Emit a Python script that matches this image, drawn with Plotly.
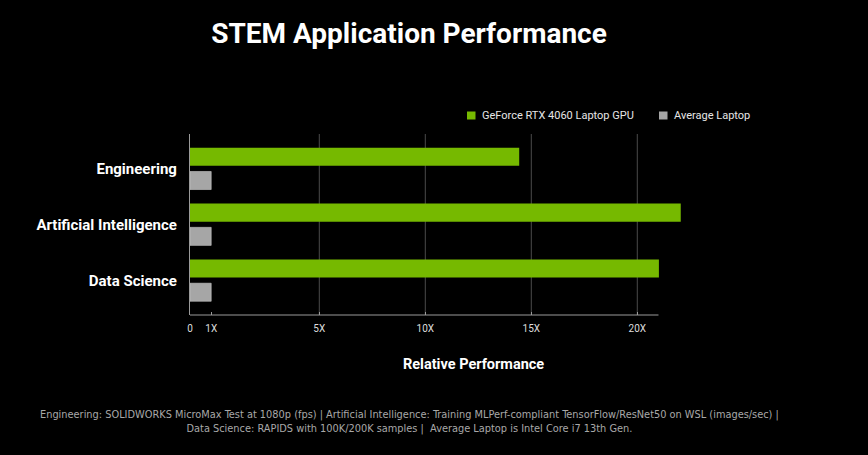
import plotly.graph_objects as go

# Values (in axis units, 1 unit = average laptop)
categories = ["Engineering", "Artificial Intelligence", "Data Science"]
rtx_4060 = [15.53, 23.15, 22.12]
avg_laptop = [1, 1, 1]
series_names = ["GeForce RTX 4060 Laptop GPU", "Average Laptop"]

# Tick positions and labels as drawn on the original axis
tick_pos = [0, 1, 6.1, 11.1, 16.1, 21.1]
tick_text = ["0", "1X", "5X", "10X", "15X", "20X"]
axis_end = 22.1

green = "#76b900"
grey = "#a6a6a6"

# plot area in pixels (left, right, top, bottom)
L, R, T, B = 190, 756, 134, 315


def px(x):
    return (x - L) / (R - L)


def py(y):
    return (B - y) / (B - T)


fig = go.Figure()
fig.add_trace(go.Bar(
    y=categories, x=rtx_4060, orientation="h", name=series_names[0],
    marker=dict(color=green, line=dict(width=0))
))
fig.add_trace(go.Bar(
    y=categories, x=avg_laptop, orientation="h", name=series_names[1],
    marker=dict(color=grey, line=dict(color="#c8c8c8", width=0.6))
))

# vertical gridlines (not at 0 / 1X)
for p in tick_pos[2:]:
    fig.add_shape(type="line", xref="x", yref="paper", x0=p, x1=p, y0=0, y1=1,
                  line=dict(color="#4a4a4a", width=1), layer="below")
# shortened x axis line
fig.add_shape(type="line", xref="x", yref="paper", x0=0, x1=axis_end, y0=0, y1=0,
              line=dict(color="#9a9a9a", width=1.2))

# legend drawn by hand so the swatch sits tight against the text
legend_items = [(series_names[0], green, 467), (series_names[1], grey, 659)]
for name, col, x0 in legend_items:
    fig.add_shape(type="rect", xref="paper", yref="paper",
                  x0=px(x0), x1=px(x0 + 8.5), y0=py(119.5), y1=py(111.5),
                  fillcolor=col, line=dict(width=0))
    fig.add_annotation(text=name, xref="paper", yref="paper", x=px(x0 + 13), y=py(115.5),
                       xanchor="left", yanchor="middle", showarrow=False,
                       font=dict(size=11, color="#e6e6e6"))

fig.update_layout(
    width=868, height=455,
    paper_bgcolor="black", plot_bgcolor="black",
    margin=dict(l=L, r=868 - R, t=T, b=455 - B),
    barmode="group", bargap=0.15, bargroupgap=0.24,
    font=dict(family="Roboto", color="white"),
    title=dict(text="<b>STEM Application Performance</b>", x=409 / 868, xanchor="center",
               y=1 - 33 / 455, yanchor="middle", font=dict(size=28, color="white")),
    showlegend=False,
    xaxis=dict(range=[0, 26.7], tickvals=tick_pos, ticktext=tick_text, showgrid=False,
               zeroline=False, showline=False, ticks="inside", ticklen=3, tickcolor="#9a9a9a",
               ticklabelstandoff=6,
               tickfont=dict(size=10, color="#dddddd"), fixedrange=True),
    yaxis=dict(range=[2.62, -0.62], showgrid=False, zeroline=False, showline=True,
               linecolor="#9a9a9a", linewidth=1.2, ticks="", ticklabelstandoff=9,
               tickfont=dict(size=15, color="white", weight="bold"), fixedrange=True),
)

fig.add_annotation(text="<b>Relative Performance</b>", xref="paper", yref="paper",
                   x=0.5, y=py(364), xanchor="center", yanchor="middle",
                   showarrow=False, font=dict(size=14.5, color="white"))

footnote = ("Engineering: SOLIDWORKS MicroMax Test at 1080p (fps) | Artificial Intelligence: "
            "Training MLPerf-compliant TensorFlow/ResNet50 on WSL (images/sec) |<br>"
            "Data Science: RAPIDS with 100K/200K samples |  Average Laptop is Intel Core i7 13th Gen.")
fig.add_annotation(text=footnote, xref="paper", yref="paper",
                   x=px(409), y=py(421), xanchor="center", yanchor="middle",
                   showarrow=False, align="center",
                   font=dict(size=10.9, color="#a8a8a8", family="DejaVu Sans Condensed"))

fig.write_html("out.html", config={"displayModeBar": False},
               post_script="document.body.style.margin='0';"
                           "document.body.style.background='black';")
